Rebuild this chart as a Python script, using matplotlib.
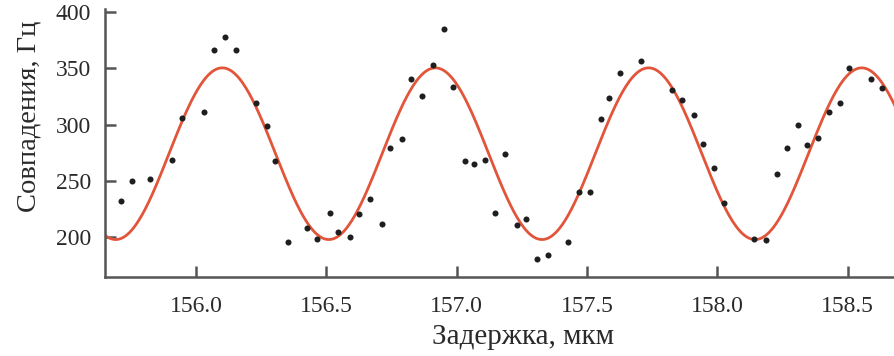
import numpy as np
import matplotlib
matplotlib.use('Agg')
import matplotlib.pyplot as plt

plt.rcParams['font.family'] = ['Liberation Serif', 'DejaVu Serif']

# Measured coincidence counts vs. delay
delay = [155.711, 155.753, 155.825, 155.907, 155.946, 156.031, 156.068, 156.112,
         156.152, 156.229, 156.271, 156.304, 156.354, 156.427, 156.465, 156.514,
         156.545, 156.590, 156.626, 156.667, 156.715, 156.746, 156.789, 156.826,
         156.867, 156.910, 156.953, 156.985, 157.031, 157.067, 157.108, 157.149,
         157.187, 157.232, 157.266, 157.307, 157.352, 157.426, 157.469, 157.511,
         157.554, 157.586, 157.628, 157.708, 157.825, 157.866, 157.910, 157.946,
         157.987, 158.025, 158.142, 158.188, 158.230, 158.269, 158.309, 158.346,
         158.388, 158.429, 158.470, 158.507, 158.591, 158.632]
counts = [232.2, 249.5, 251.8, 268.5, 305.9, 311.6, 366.8, 378.2,
          366.0, 319.3, 298.8, 267.3, 195.6, 207.8, 198.3, 221.5,
          204.6, 200.1, 220.3, 233.5, 211.7, 279.5, 287.5, 340.7,
          325.8, 352.9, 385.0, 333.8, 267.3, 264.6, 268.5, 221.5,
          273.8, 210.8, 216.1, 180.5, 183.5, 195.6, 240.2, 239.7,
          304.8, 323.5, 346.1, 356.8, 330.9, 322.0, 308.6, 282.7,
          261.6, 230.4, 198.3, 197.1, 256.0, 279.5, 299.4, 281.6,
          288.4, 311.0, 319.0, 350.8, 340.7, 332.4]

# Sinusoidal fit parameters
fit_mean = 274.0
fit_amp = 76.5
fit_period = 0.8177
fit_peak = 156.101

x_ticks = [156.0, 156.5, 157.0, 157.5, 158.0, 158.5]
y_ticks = [200, 250, 300, 350, 400]

fig = plt.figure(figsize=(8.94, 3.56), dpi=100)
ax = fig.add_axes([0.1174, 0.2228, 0.8826, 0.7511])

x_fit = np.linspace(155.6, 158.75, 800)
y_fit = fit_mean + fit_amp * np.cos(2 * np.pi * (x_fit - fit_peak) / fit_period)
ax.plot(x_fit, y_fit, color='#e2553a', lw=2.0, zorder=2)
ax.scatter(delay, counts, s=19, color='#1e1e1e', zorder=3, linewidths=0)

ax.set_xlim(155.651, 158.678)
ax.set_ylim(164.4, 402.7)
ax.set_xticks(x_ticks)
ax.set_xticklabels([f'{v:.1f}' for v in x_ticks])
ax.set_yticks(y_ticks)

for side in ('top', 'right'):
    ax.spines[side].set_visible(False)
for side in ('left', 'bottom'):
    ax.spines[side].set_color('#555555')
    ax.spines[side].set_linewidth(1.8)

ax.tick_params(axis='both', direction='in', length=8, width=1.8,
               color='#555555', labelsize=17, labelcolor='#2a2a2a')
ax.tick_params(axis='x', pad=14)
ax.tick_params(axis='y', pad=10)

ax.set_xlabel('Задержка, мкм', fontsize=21, color='#2a2a2a')
ax.xaxis.set_label_coords(0.530, -0.178)
ax.set_ylabel('Совпадения, Гц', fontsize=20.5, color='#2a2a2a')
ax.yaxis.set_label_coords(-0.080, 0.601)

fig.savefig('out.png', dpi=100)
